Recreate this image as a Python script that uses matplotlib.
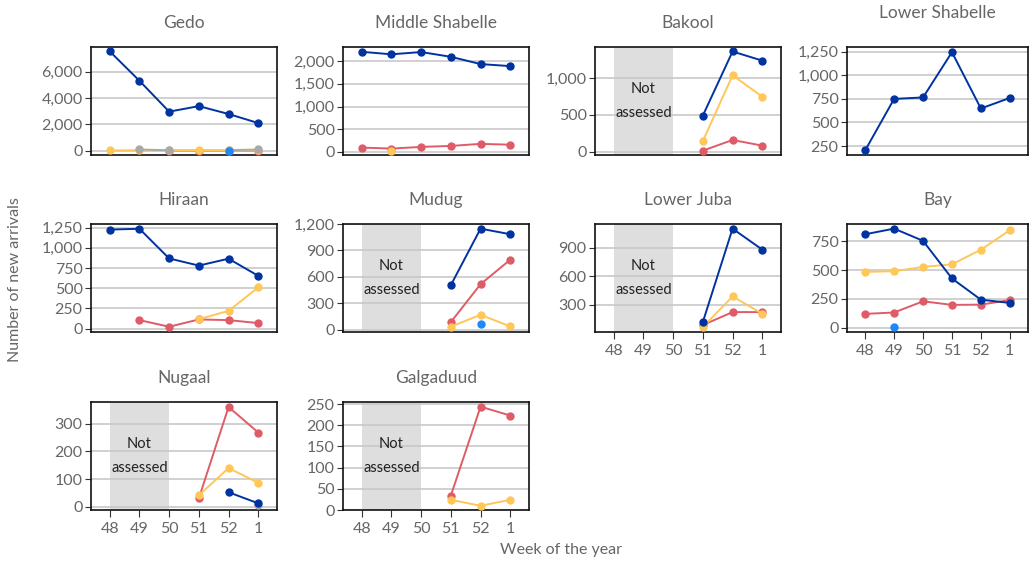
import numpy as np
import matplotlib
matplotlib.use('Agg')
import matplotlib.pyplot as plt
from matplotlib.ticker import FuncFormatter

nan = np.nan

# ── Data (new arrivals per week, by district and group) ──────────────────
weeks = ['48', '49', '50', '51', '52', '1']

districts = ['Gedo', 'Middle Shabelle', 'Bakool', 'Lower Shabelle',
             'Hiraan', 'Mudug', 'Lower Juba', 'Bay',
             'Nugaal', 'Galgaduud']

blue = {
    'Gedo':            [7560, 5320, 2970, 3390, 2790, 2100],
    'Middle Shabelle': [2205, 2150, 2200, 2095, 1935, 1890],
    'Bakool':          [nan, nan, nan, 490, 1360, 1236],
    'Lower Shabelle':  [205, 750, 765, 1245, 648, 760],
    'Hiraan':          [1225, 1235, 868, 780, 865, 653],
    'Mudug':           [nan, nan, nan, 506, 1147, 1084],
    'Lower Juba':      [nan, nan, nan, 119, 1099, 879],
    'Bay':             [810, 859, 753, 427, 243, 215],
    'Nugaal':          [nan, nan, nan, nan, 53, 13],
    'Galgaduud':       [nan, nan, nan, nan, nan, nan],
}
red = {
    'Gedo':            [nan, nan, 5, 5, 5, 10],
    'Middle Shabelle': [96, 74, 111, 133, 178, 160],
    'Bakool':          [nan, nan, nan, 14, 159, 82],
    'Lower Shabelle':  [nan, nan, nan, nan, nan, nan],
    'Hiraan':          [nan, 106, 24, 114, 106, 69],
    'Mudug':           [nan, nan, nan, 86, 517, 795],
    'Lower Juba':      [nan, nan, nan, 87, 223, 223],
    'Bay':             [120, 132, 229, 198, 200, 240],
    'Nugaal':          [nan, nan, nan, 31, 360, 268],
    'Galgaduud':       [nan, nan, nan, 34, 244, 223],
}
yellow = {
    'Gedo':            [15, 40, 15, 20, 15, 30],
    'Middle Shabelle': [nan, 15, nan, nan, nan, nan],
    'Bakool':          [nan, nan, nan, 145, 1036, 747],
    'Lower Shabelle':  [nan, nan, nan, nan, nan, nan],
    'Hiraan':          [nan, nan, nan, 118, 220, 510],
    'Mudug':           [nan, nan, nan, 34, 169, 37],
    'Lower Juba':      [nan, nan, nan, 66, 387, 206],
    'Bay':             [484, 490, 527, 550, 676, 845],
    'Nugaal':          [nan, nan, nan, 42, 140, 87],
    'Galgaduud':       [nan, nan, nan, 24, 10, 24],
}
lightblue = {
    'Gedo':  [nan, nan, nan, nan, 0, nan],
    'Mudug': [nan, nan, nan, nan, 60, nan],
    'Bay':   [nan, 9, nan, nan, nan, nan],
}
grey = {
    'Gedo':   [nan, 90, 30, nan, 40, 90],
    'Nugaal': [nan, nan, nan, nan, nan, 6],
}

not_assessed = ['Bakool', 'Mudug', 'Lower Juba', 'Nugaal', 'Galgaduud']
show_xticks = ['Lower Juba', 'Bay', 'Nugaal', 'Galgaduud']

yticks = {
    'Gedo':            [0, 2000, 4000, 6000],
    'Middle Shabelle': [0, 500, 1000, 1500, 2000],
    'Bakool':          [0, 500, 1000],
    'Lower Shabelle':  [250, 500, 750, 1000, 1250],
    'Hiraan':          [0, 250, 500, 750, 1000, 1250],
    'Mudug':           [0, 300, 600, 900, 1200],
    'Lower Juba':      [300, 600, 900],
    'Bay':             [0, 250, 500, 750],
    'Nugaal':          [0, 100, 200, 300],
    'Galgaduud':       [0, 50, 100, 150, 200, 250],
}
ylims = {
    'Gedo':            (-330, 7890),
    'Middle Shabelle': (-67, 2311),
    'Bakool':          (-45, 1421),
    'Lower Shabelle':  (155, 1300),
    'Hiraan':          (-41, 1294),
    'Mudug':           (-26, 1200),
    'Lower Juba':      (14, 1148),
    'Bay':             (-37, 899),
    'Nugaal':          (-11, 378),
    'Galgaduud':       (0, 255),
}

# ── Style ────────────────────────────────────────────────────────────────
plt.rcParams['font.family'] = ['Lato', 'DejaVu Sans']
C_BLUE, C_RED, C_YEL, C_LBLUE, C_GREY = '#0033a0', '#de5c68', '#ffc658', '#1e88f5', '#a9a9a9'
TXT = '#666666'

W, H = 1029, 561
fig = plt.figure(figsize=(W / 100, H / 100), dpi=100)

col_left = [91, 343, 595, 847]
row_top = [47, 224, 402]
ax_w, ax_h = 186, 108

x = np.arange(len(weeks))

for i, name in enumerate(districts):
    r, c = divmod(i, 4)
    w = ax_w if c < 3 else 181
    ax = fig.add_axes([col_left[c] / W, 1 - (row_top[r] + ax_h) / H, w / W, ax_h / H])

    if name in not_assessed:
        ax.axvspan(0, 2, color='#dedede', zorder=0, lw=0)
        ax.text(1, sum(ylims[name]) / 2, 'Not\nassessed', ha='center', va='center',
                fontsize=10.5, color='#222222', linespacing=1.9, zorder=1)

    for series, col in [(red, C_RED), (yellow, C_YEL), (grey, C_GREY),
                        (lightblue, C_LBLUE), (blue, C_BLUE)]:
        if name in series:
            ax.plot(x, series[name], color=col, lw=1.4, marker='o', ms=5, zorder=3)

    ax.set_xlim(-0.63, 5.63)
    ax.set_ylim(*ylims[name])
    ax.set_yticks(yticks[name])
    ax.yaxis.set_major_formatter(FuncFormatter(lambda v, p: f'{int(v):,}'))
    ax.grid(axis='y', color='#c8c8c8', lw=1.2, zorder=0)
    ax.set_axisbelow(True)
    ax.set_xticks(x)
    if name in show_xticks:
        ax.set_xticklabels(weeks)
        ax.tick_params(axis='x', length=5, color='#333333', labelsize=11.5, labelcolor=TXT)
    else:
        ax.tick_params(axis='x', length=0, labelbottom=False)
    ax.tick_params(axis='y', length=4, color='#333333', labelsize=11.5, labelcolor=TXT, pad=2)
    for s in ax.spines.values():
        s.set_color('#111111')
        s.set_linewidth(1.2)

    pad = 21 if name == 'Lower Shabelle' else 14
    ax.set_title(name, fontsize=12.5, color=TXT, pad=pad)

fig.text(15 / W, 1 - 280 / H, 'Number of new arrivals', rotation=90,
         ha='center', va='center', fontsize=11.5, color=TXT)
fig.text(561 / W, 1 - 550 / H, 'Week of the year', ha='center', va='center',
         fontsize=11.5, color=TXT)

plt.savefig('out.png', dpi=100)
